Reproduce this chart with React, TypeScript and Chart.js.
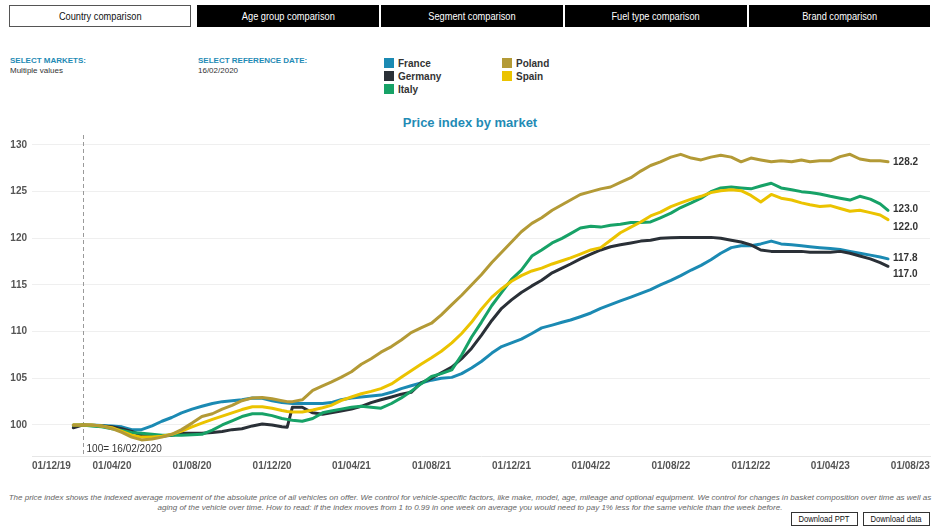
import React, { useEffect, useRef } from "react";
import { Chart, registerables } from "chart.js";

Chart.register(...registerables);

// ---------- data ----------
const DATES = [
  "2020-02-02", "2020-02-16", "2020-03-01", "2020-03-16", "2020-04-01", "2020-04-16",
  "2020-05-01", "2020-05-16", "2020-06-01", "2020-06-16", "2020-07-01", "2020-07-16",
  "2020-08-01", "2020-08-16", "2020-09-01", "2020-09-16", "2020-10-01", "2020-10-16",
  "2020-11-01", "2020-11-16", "2020-12-01", "2020-12-16", "2020-12-24", "2021-01-01",
  "2021-01-16", "2021-02-01", "2021-02-16", "2021-03-01", "2021-03-16", "2021-04-01",
  "2021-04-16", "2021-05-01", "2021-05-16", "2021-06-01", "2021-06-16", "2021-07-01",
  "2021-07-16", "2021-08-01", "2021-08-16", "2021-09-01", "2021-09-16", "2021-10-01",
  "2021-10-16", "2021-11-01", "2021-11-16", "2021-12-01", "2021-12-16", "2022-01-01",
  "2022-01-16", "2022-02-01", "2022-02-16", "2022-03-01", "2022-03-16", "2022-04-01",
  "2022-04-16", "2022-05-01", "2022-05-16", "2022-06-01", "2022-06-16", "2022-07-01",
  "2022-07-16", "2022-08-01", "2022-08-16", "2022-09-01", "2022-09-16", "2022-10-01",
  "2022-10-16", "2022-11-01", "2022-11-16", "2022-12-01", "2022-12-16", "2023-01-01",
  "2023-01-16", "2023-02-01", "2023-02-16", "2023-03-01", "2023-03-16", "2023-04-01",
  "2023-04-16", "2023-05-01", "2023-05-16", "2023-06-01", "2023-06-16", "2023-06-28",
];

const FRANCE = [
  99.9, 100.0, 100.0, 99.95, 99.9, 99.8, 99.5, 99.5, 99.9, 100.4, 100.8, 101.3,
  101.7, 102.0, 102.3, 102.5, 102.6, 102.7, 102.9, 102.85, 102.6, 102.4, 102.35, 102.3,
  102.3, 102.3, 102.3, 102.4, 102.7, 102.9, 103.0, 103.1, 103.2, 103.5, 103.9, 104.2,
  104.5, 104.8, 105.0, 105.1, 105.5, 106.1, 106.8, 107.7, 108.4, 108.8, 109.2, 109.8,
  110.4, 110.7, 111.0, 111.25, 111.6, 112.0, 112.5, 112.9, 113.3, 113.7, 114.1, 114.5,
  115.0, 115.5, 116.0, 116.6, 117.1, 117.7, 118.4, 119.0, 119.2, 119.2, 119.4, 119.7,
  119.4, 119.3, 119.2, 119.1, 119.0, 118.9, 118.8, 118.6, 118.4, 118.2, 118.0, 117.8,
];

const GERMANY = [
  99.7, 100.0, 99.95, 99.9, 99.8, 99.6, 99.3, 98.9, 98.8, 98.8, 98.9, 99.1,
  99.1, 99.1, 99.2, 99.3, 99.5, 99.6, 99.9, 100.1, 100.0, 99.8, 99.75, 101.9,
  101.9, 101.3, 101.15, 101.3, 101.5, 101.7, 102.0, 102.4, 102.7, 103.0, 103.3, 103.5,
  104.5, 105.0, 105.6, 106.2, 107.1, 108.2, 109.6, 111.2, 112.5, 113.4, 114.2, 114.9,
  115.5, 116.3, 116.8, 117.25, 117.8, 118.3, 118.75, 119.1, 119.3, 119.5, 119.7, 119.8,
  120.0, 120.05, 120.1, 120.1, 120.1, 120.1, 120.0, 119.8, 119.6, 119.3, 118.75, 118.6,
  118.6, 118.6, 118.6, 118.5, 118.5, 118.5, 118.6, 118.4, 118.1, 117.8, 117.4, 117.0,
];

const ITALY = [
  100.0, 100.0, 99.9, 99.8, 99.6, 99.4, 99.2, 99.1, 99.0, 98.9, 98.9, 98.9,
  98.95, 99.0, 99.45, 100.0, 100.45, 100.9, 101.2, 101.2, 101.0, 100.7, 100.6, 100.5,
  100.4, 100.7, 101.3, 101.5, 101.7, 101.9, 102.0, 101.9, 101.8, 102.3, 102.9, 103.6,
  104.4, 105.2, 105.5, 105.9, 107.5, 109.4, 111.0, 112.8, 114.2, 115.6, 116.6, 118.1,
  118.75, 119.5, 120.0, 120.5, 121.1, 121.3, 121.2, 121.4, 121.5, 121.7, 121.7, 121.75,
  122.2, 122.7, 123.3, 123.8, 124.3, 125.0, 125.4, 125.5, 125.4, 125.3, 125.6, 125.9,
  125.4, 125.2, 125.0, 124.9, 124.75, 124.5, 124.3, 124.1, 124.5, 124.2, 123.7, 123.0,
];

const POLAND = [
  100.0, 100.0, 100.0, 99.9, 99.6, 99.2, 98.7, 98.4, 98.5, 98.7, 99.0, 99.5,
  100.2, 100.9, 101.2, 101.7, 102.1, 102.6, 102.9, 102.95, 102.8, 102.6, 102.5, 102.5,
  102.7, 103.7, 104.2, 104.6, 105.1, 105.7, 106.5, 107.1, 107.8, 108.4, 109.1, 109.9,
  110.4, 110.9, 111.8, 112.9, 113.9, 115.0, 116.1, 117.4, 118.5, 119.6, 120.7, 121.6,
  122.2, 123.0, 123.6, 124.1, 124.7, 125.0, 125.3, 125.5, 126.0, 126.5, 127.2, 127.8,
  128.2, 128.7, 129.0, 128.6, 128.4, 128.7, 128.9, 128.7, 128.2, 128.6, 128.4, 128.2,
  128.3, 128.2, 128.4, 128.2, 128.3, 128.3, 128.75, 129.0, 128.5, 128.3, 128.3, 128.2,
];

const SPAIN = [
  100.0, 100.0, 100.0, 99.9, 99.7, 99.3, 98.9, 98.7, 98.7, 98.8, 99.0, 99.35,
  99.8, 100.2, 100.6, 100.95, 101.3, 101.65, 101.95, 101.95, 101.8, 101.55, 101.45, 101.4,
  101.4, 101.6, 101.85, 102.1, 102.6, 103.0, 103.35, 103.6, 103.9, 104.4, 105.1, 105.8,
  106.5, 107.2, 107.9, 108.8, 109.8, 111.0, 112.4, 113.7, 114.6, 115.4, 116.0, 116.5,
  116.8, 117.25, 117.6, 117.9, 118.3, 118.75, 119.0, 119.8, 120.6, 121.2, 121.75, 122.4,
  122.8, 123.4, 123.8, 124.2, 124.5, 124.9, 125.1, 125.2, 125.1, 124.6, 123.9, 124.7,
  124.3, 124.1, 123.8, 123.6, 123.4, 123.5, 123.2, 122.9, 123.0, 122.75, 122.5, 122.0,
];

const SERIES_NAMES = ["Poland", "Spain", "Italy", "Germany", "France"];
const SERIES_VALUES = [POLAND, SPAIN, ITALY, GERMANY, FRANCE];
const SERIES_COLORS = ["#b39a36", "#ebc300", "#17a267", "#2a3037", "#1b8ab3"];
const END_LABEL_NUDGE = [0, 8, -1, 8, -1];

const X_TICK_DATES = [
  "2019-12-01", "2020-04-01", "2020-08-01", "2020-12-01", "2021-04-01", "2021-08-01",
  "2021-12-01", "2022-04-01", "2022-08-01", "2022-12-01", "2023-04-01", "2023-08-01",
];
const X_START = "2019-12-01";
const X_END = "2023-08-31";
const Y_TICKS = [100, 105, 110, 115, 120, 125, 130];
const Y_MIN = 96.6;
const Y_MAX = 131.07;
const REFERENCE_DATE = "2020-02-16";
const REFERENCE_LABEL = "100= 16/02/2020";

const TABS = ["Country comparison", "Age group comparison", "Segment comparison", "Fuel type comparison", "Brand comparison"];
const LEGEND_COL1 = ["France", "Germany", "Italy"];
const LEGEND_COL2 = ["Poland", "Spain"];
const LEGEND_COLORS: Record<string, string> = {
  France: "#1b8ab3", Germany: "#2a3037", Italy: "#17a267", Poland: "#b39a36", Spain: "#ebc300",
};

// ---------- helpers ----------
const ORIGIN = Date.UTC(2019, 11, 1);
function dayOf(s: string): number {
  const [y, m, d] = s.split("-").map(Number);
  return (Date.UTC(y, m - 1, d) - ORIGIN) / 86400000;
}
function fmtDate(s: string): string {
  const [y, m, d] = s.split("-");
  return `${d}/${m}/${y.slice(2)}`;
}

const FONT = "'Liberation Sans', Arial, Helvetica, sans-serif";
const TEAL = "#1f8bb5";

const refLinePlugin = {
  id: "refLine",
  beforeDatasetsDraw(chart: any) {
    const { ctx, chartArea, scales } = chart;
    const x = scales.x.getPixelForValue(dayOf(REFERENCE_DATE));
    ctx.save();
    ctx.strokeStyle = "#9a9a9a";
    ctx.lineWidth = 1;
    ctx.setLineDash([4, 3]);
    ctx.beginPath();
    ctx.moveTo(Math.round(x) + 0.5, chartArea.top);
    ctx.lineTo(Math.round(x) + 0.5, chartArea.bottom);
    ctx.stroke();
    ctx.setLineDash([]);
    ctx.fillStyle = "#333";
    ctx.font = `10px ${FONT}`;
    ctx.textAlign = "left";
    ctx.textBaseline = "middle";
    ctx.fillText(REFERENCE_LABEL, x + 4, chartArea.bottom - 7);
    ctx.restore();
  },
};

const endLabelPlugin = {
  id: "endLabels",
  afterDatasetsDraw(chart: any) {
    const { ctx } = chart;
    ctx.save();
    ctx.font = `bold 10px ${FONT}`;
    ctx.fillStyle = "#333";
    ctx.textAlign = "left";
    ctx.textBaseline = "middle";
    chart.data.datasets.forEach((ds: any, i: number) => {
      const meta = chart.getDatasetMeta(i);
      const pt = meta.data[meta.data.length - 1];
      const v = ds.data[ds.data.length - 1].y;
      ctx.fillText(v.toFixed(1), pt.x + 5, pt.y + END_LABEL_NUDGE[i]);
    });
    ctx.restore();
  },
};

function PriceChart() {
  const ref = useRef<HTMLCanvasElement>(null);
  useEffect(() => {
    if (!ref.current) return;
    const xTickValues = [...X_TICK_DATES.map(dayOf), dayOf(X_END)];
    const chart = new Chart(ref.current, {
      type: "line",
      data: {
        datasets: SERIES_NAMES.map((name, i) => ({
          label: name,
          data: DATES.map((d, j) => ({ x: dayOf(d), y: SERIES_VALUES[i][j] })),
          borderColor: SERIES_COLORS[i],
          backgroundColor: SERIES_COLORS[i],
          borderWidth: 3,
          pointRadius: 0,
          tension: 0,
          fill: false,
          borderJoinStyle: "round" as const,
          borderCapStyle: "round" as const,
        })),
      },
      options: {
        animation: false,
        responsive: true,
        maintainAspectRatio: false,
        layout: { padding: { left: 0, right: 10, top: 5, bottom: 0 } },
        plugins: { legend: { display: false }, tooltip: { enabled: false }, title: { display: false } },
        scales: {
          x: {
            type: "linear",
            min: dayOf(X_START),
            max: dayOf(X_END),
            grid: { display: false, drawTicks: false },
            border: { display: true, color: "#e6e6e6" },
            afterBuildTicks: (scale: any) => {
              scale.ticks = xTickValues.map((v) => ({ value: v }));
            },
            afterFit: (scale: any) => {
              scale.height = 18.3;
              scale.paddingLeft = 0;
              scale.paddingRight = 0;
            },
            ticks: {
              autoSkip: false,
              maxRotation: 0,
              align: "inner",
              padding: 4,
              color: "#555",
              font: { family: FONT, size: 10, weight: "bold" },
              callback: (_v: any, idx: number) => (idx < X_TICK_DATES.length ? fmtDate(X_TICK_DATES[idx]) : ""),
            },
          },
          y: {
            type: "linear",
            min: Y_MIN,
            max: Y_MAX,
            grid: { color: "#efefef", drawTicks: false },
            border: { display: false },
            afterBuildTicks: (scale: any) => {
              scale.ticks = Y_TICKS.map((v) => ({ value: v }));
            },
            afterFit: (scale: any) => {
              scale.width = 32;
              scale.paddingTop = 0;
              scale.paddingBottom = 0;
            },
            ticks: {
              padding: 5,
              color: "#555",
              font: { family: FONT, size: 10, weight: "bold" },
              callback: (v: any) => String(v),
            },
          },
        },
      } as any,
      plugins: [refLinePlugin, endLabelPlugin],
    });
    return () => chart.destroy();
  }, []);
  return (
    <div style={{ position: "absolute", left: 0, top: 130, width: 940, height: 345 }}>
      <canvas ref={ref} />
    </div>
  );
}

export default function App() {
  const tabLefts = [9, 197, 381, 565, 749];
  return (
    <div style={{ position: "absolute", left: 0, top: 0, width: 940, height: 529, background: "#fff", fontFamily: FONT, overflow: "hidden" }}>
      {TABS.map((t, i) => (
        <div
          key={t}
          style={{
            position: "absolute", left: tabLefts[i], top: 5, width: i === 4 ? 181 : 182, height: 22,
            boxSizing: "border-box", border: i === 0 ? "1px solid #555" : "1px solid #000",
            background: i === 0 ? "#fff" : "#000", color: i === 0 ? "#111" : "#fff",
            fontSize: 11, display: "flex", alignItems: "center", justifyContent: "center",
          }}
        >
          <span style={{ display: "inline-block", transform: "scaleX(0.84)", whiteSpace: "nowrap" }}>{t}</span>
        </div>
      ))}

      <div style={{ position: "absolute", left: 10, top: 56, fontSize: 8, fontWeight: "bold", color: TEAL }}>SELECT MARKETS:</div>
      <div style={{ position: "absolute", left: 10, top: 66, fontSize: 8, color: "#333" }}>Multiple values</div>
      <div style={{ position: "absolute", left: 198, top: 56, fontSize: 8, fontWeight: "bold", color: TEAL }}>SELECT REFERENCE DATE:</div>
      <div style={{ position: "absolute", left: 198, top: 66, fontSize: 8, color: "#333" }}>16/02/2020</div>

      {[LEGEND_COL1, LEGEND_COL2].map((col, ci) =>
        col.map((name, ri) => (
          <div key={name} style={{ position: "absolute", left: ci === 0 ? 384 : 502, top: 57 + ri * 13, height: 12, display: "flex", alignItems: "center" }}>
            <div style={{ width: 10, height: 10, background: LEGEND_COLORS[name], marginRight: 4 }} />
            <span style={{ fontSize: 10, fontWeight: "bold", color: "#333" }}>{name}</span>
          </div>
        ))
      )}

      <div style={{ position: "absolute", left: 0, top: 115, width: 940, textAlign: "center", fontSize: 13, fontWeight: "bold", color: TEAL }}>
        Price index by market
      </div>

      <PriceChart />

      <div style={{ position: "absolute", left: 0, top: 493, width: 940, textAlign: "center", fontSize: 8, fontStyle: "italic", color: "#666", lineHeight: "10px" }}>
        The price index shows the indexed average movement of the absolute price of all vehicles on offer. We control for vehicle-specific factors, like make, model, age, mileage and optional equipment. We control for changes in basket composition over time as well as
        <br />
        aging of the vehicle over time. How to read: if the index moves from 1 to 0.99 in one week on average you would need to pay 1% less for the same vehicle than the week before.
      </div>

      {["Download PPT", "Download data"].map((b, i) => (
        <div
          key={b}
          style={{
            position: "absolute", left: i === 0 ? 791 : 863, top: 512, width: 67, height: 14, boxSizing: "border-box",
            border: "1px solid #333", background: "#fff", color: "#111", fontSize: 9,
            display: "flex", alignItems: "center", justifyContent: "center",
          }}
        >
          <span style={{ display: "inline-block", transform: "scaleX(0.85)", whiteSpace: "nowrap" }}>{b}</span>
        </div>
      ))}
    </div>
  );
}
